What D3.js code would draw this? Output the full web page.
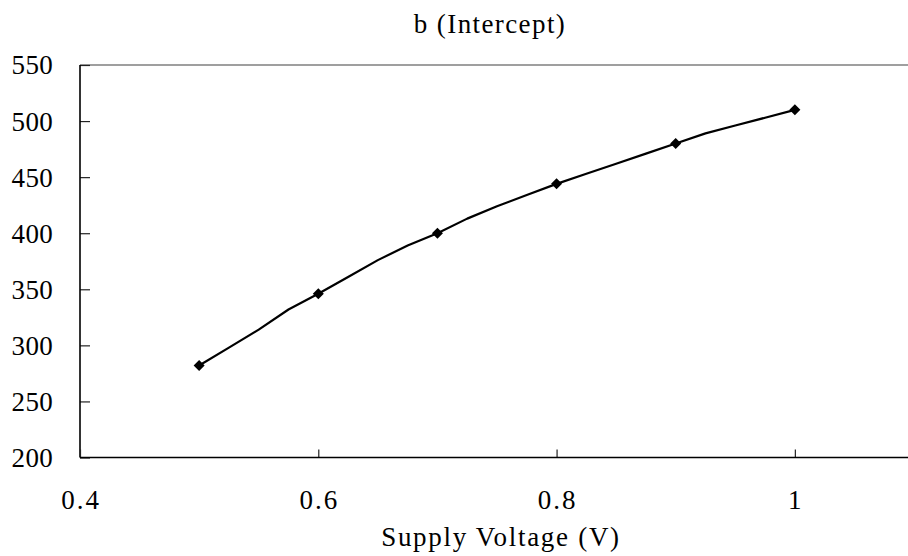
<!DOCTYPE html>
<html>
<head>
<meta charset="utf-8">
<script src="https://cdn.jsdelivr.net/npm/d3@7/dist/d3.min.js"></script>
<style>
  html, body { margin: 0; padding: 0; background: #fff; }
  text { font-family: "Liberation Serif", "Times New Roman", serif; fill: #000; }
</style>
</head>
<body>
<svg id="chart" width="908" height="556"></svg>
<script>
// Intercept b versus supply voltage
const curveVoltage = [0.5, 0.525, 0.55, 0.575, 0.6, 0.625, 0.65, 0.675, 0.7, 0.725, 0.75, 0.775,
                      0.8, 0.825, 0.85, 0.875, 0.9, 0.925, 0.95, 0.975, 1.0];
const curveIntercept = [282, 298, 314, 332, 346, 361, 376, 389, 400, 413, 424, 434,
                        444, 453, 462, 471, 480, 489, 496, 503, 510];
const markerVoltage = [0.5, 0.6, 0.7, 0.8, 0.9, 1.0];
const markerIntercept = [282, 346, 400, 444, 480, 510];
const xTicks = [0.4, 0.6, 0.8, 1];
const yTicks = [200, 250, 300, 350, 400, 450, 500, 550];

const chartTitle = "b (Intercept)";
const xTitle = "Supply Voltage (V)";

const svg = d3.select("#chart");
const plotLeft = 80, plotTop = 65, plotRight = 914, plotBottom = 457.5;

const x = d3.scaleLinear().domain([0.4, 1.1]).range([plotLeft, plotRight]);
const y = d3.scaleLinear().domain([200, 550]).range([plotBottom, plotTop]);

// plot area frame (top / right)
svg.append("path")
  .attr("d", `M${plotLeft},${plotTop}H${plotRight}V${plotBottom}`)
  .attr("fill", "none").attr("stroke", "#808080").attr("stroke-width", 1.5);

// y axis
const yAxis = svg.append("g").attr("transform", `translate(${plotLeft},0)`)
  .call(d3.axisRight(y).tickValues(yTicks).tickSize(10).tickFormat(""));
yAxis.select(".domain").remove();
yAxis.selectAll(".tick line").attr("stroke", "#222").attr("stroke-width", 1.2);
svg.append("line").attr("x1", plotLeft).attr("x2", plotLeft).attr("y1", plotTop).attr("y2", plotBottom)
  .attr("stroke", "#000").attr("stroke-width", 1.6);
svg.append("g").selectAll("text").data(yTicks).join("text")
  .attr("x", 53).attr("y", d => y(d))
  .attr("dy", "0.35em")
  .attr("text-anchor", "end")
  .style("font-size", "27px")
  .style("letter-spacing", "0.3px")
  .text(d => d);

// x axis
const xAxis = svg.append("g").attr("transform", `translate(0,${plotBottom})`)
  .call(d3.axisTop(x).tickValues(xTicks).tickSize(8).tickFormat(""));
xAxis.select(".domain").remove();
xAxis.selectAll(".tick line").attr("stroke", "#222").attr("stroke-width", 1.2);
svg.append("line").attr("x1", plotLeft).attr("x2", plotRight).attr("y1", plotBottom).attr("y2", plotBottom)
  .attr("stroke", "#000").attr("stroke-width", 1.6);
svg.append("g").selectAll("text").data(xTicks).join("text")
  .attr("x", d => x(d) + 1).attr("y", 509)
  .attr("text-anchor", "middle")
  .style("font-size", "27px")
  .style("letter-spacing", "2px")
  .text(d => d);

// titles
svg.append("text").attr("x", 490).attr("y", 33).attr("text-anchor", "middle")
  .style("font-size", "27px").style("letter-spacing", "1.4px").text(chartTitle);
svg.append("text").attr("x", 501).attr("y", 546).attr("text-anchor", "middle")
  .style("font-size", "27px").style("letter-spacing", "1.7px").text(xTitle);

// curve
const line = d3.line().x((d, i) => x(curveVoltage[i])).y(d => y(d));
svg.append("path").datum(curveIntercept)
  .attr("d", line)
  .attr("fill", "none").attr("stroke", "#000").attr("stroke-width", 2.2)
  .attr("stroke-linejoin", "round");

// diamond markers
svg.append("g").selectAll("path").data(markerIntercept).join("path")
  .attr("transform", (d, i) => `translate(${x(markerVoltage[i])},${y(d)})`)
  .attr("d", "M0,-5.5L5.5,0L0,5.5L-5.5,0Z")
  .attr("fill", "#000");
</script>
</body>
</html>
